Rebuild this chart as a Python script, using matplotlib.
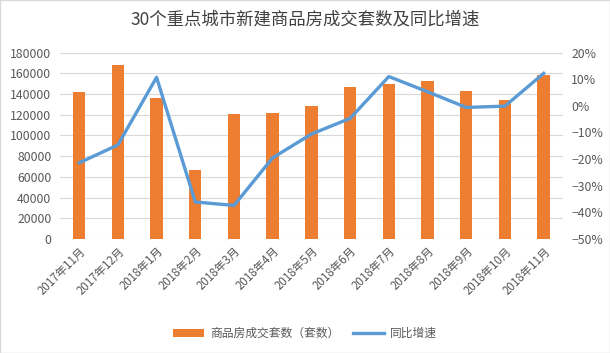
import numpy as np
import matplotlib.pyplot as plt
from matplotlib.ticker import FuncFormatter
from matplotlib.patches import Rectangle

plt.rcParams['font.family'] = ['Noto Sans CJK SC', 'DejaVu Sans']

# 数据
meses = ['2017年11月', '2017年12月', '2018年1月', '2018年2月', '2018年3月',
         '2018年4月', '2018年5月', '2018年6月', '2018年7月', '2018年8月',
         '2018年9月', '2018年10月', '2018年11月']
taoshu = [142000, 168000, 136000, 67000, 121000, 122000, 128000,
          147000, 150000, 153000, 143000, 134500, 158500]
tongbi = [-21.4, -14.7, 10.7, -36.1, -37.4, -19.5, -10.6,
          -4.7, 11.0, 5.3, -0.6, -0.1, 12.2]

naranja = '#ED7D31'
azul = '#5B9BD5'
gris = '#595959'

fig = plt.figure(figsize=(6.1, 3.53), dpi=100)
ax = fig.add_axes([0.098, 0.323, 0.825, 0.528])
ax2 = ax.twinx()

x = np.arange(len(meses))
barras = ax.bar(x, taoshu, width=0.32, color=naranja, zorder=2,
                label='商品房成交套数（套数）')
linea, = ax2.plot(x, tongbi, color=azul, linewidth=2.4, zorder=3,
                  label='同比增速')

ax.set_ylim(0, 180000)
ax.set_yticks(np.arange(0, 180001, 20000))
ax2.set_ylim(-50, 20)
ax2.set_yticks(np.arange(-50, 21, 10))
ax2.yaxis.set_major_formatter(
    FuncFormatter(lambda v, p: f'{v:.0f}%'.replace('-', '\u2212')))
ax.set_xlim(-0.5, len(meses) - 0.5)

ax.grid(axis='y', color='#D9D9D9', linewidth=0.8, zorder=0)
ax.set_axisbelow(True)
for a in (ax, ax2):
    for s in a.spines.values():
        s.set_visible(False)
    a.tick_params(length=0, labelsize=8.8, labelcolor=gris)
ax.tick_params(axis='y', pad=6)
ax2.tick_params(axis='y', pad=6)

ax.set_xticks(x)
ax.set_xticklabels(meses, rotation=45, ha='right', rotation_mode='anchor',
                   fontsize=8.3, color=gris)
ax.tick_params(axis='x', pad=4)

ax.set_zorder(ax2.get_zorder() - 1)
ax.patch.set_visible(False)

fig.text(0.5, 0.945, '30个重点城市新建商品房成交套数及同比增速',
         ha='center', va='center', fontsize=12.5, color='#404040')

fig.legend([barras, linea], ['商品房成交套数（套数）', '同比增速'],
           loc='center', bbox_to_anchor=(0.5, 0.055), ncol=2, frameon=False,
           fontsize=8.5, labelcolor=gris, handlelength=2.6, columnspacing=1.2,
           handletextpad=0.5)

fig.patches.append(Rectangle((0, 0), 1, 1, transform=fig.transFigure,
                             fill=False, edgecolor='#D9D9D9', linewidth=1))

fig.savefig('out.png', dpi=100)
